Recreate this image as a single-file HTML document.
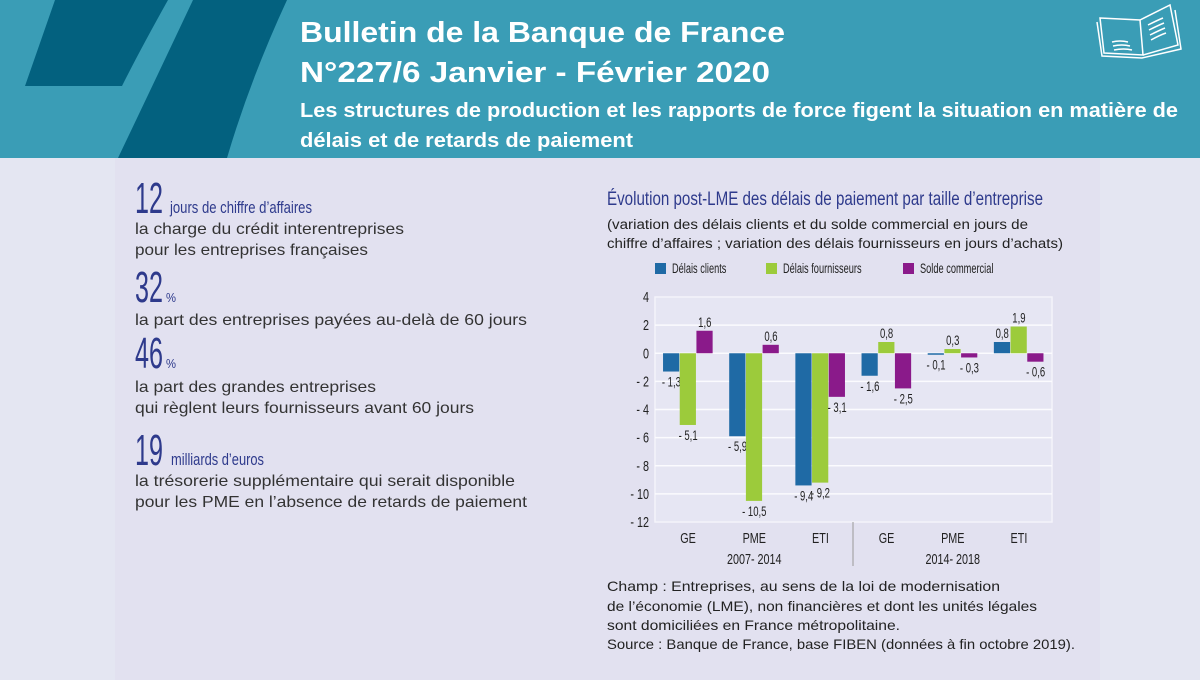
<!DOCTYPE html>
<html><head><meta charset="utf-8"><style>
body{margin:0;width:1200px;height:680px;overflow:hidden;background:#e4e6f2}
svg{display:block}
.n{font-family:"Liberation Sans Narrow","Liberation Sans",sans-serif}
.s{font-family:"Liberation Sans",sans-serif}
</style></head><body>
<svg id="page" width="1200" height="680" viewBox="0 0 1200 680">
<rect x="0" y="0" width="1200" height="680" fill="#e4e6f2"/>
<rect x="115" y="158" width="985" height="522" fill="#e2e1f0"/>
<g>
<rect x="0" y="0" width="1200" height="158" fill="#3a9db6"/>
<path d="M55 0 L168 0 Q140 50 122 86 L25 86 Z" fill="#03617f"/>
<path d="M193 0 L287 0 Q250 80 227 158 L118 158 Q160 70 193 0 Z" fill="#03617f"/>
<text x="300" y="42" fill="#fff" font-size="29" font-weight="bold" class="s" textLength="485" lengthAdjust="spacingAndGlyphs">Bulletin de la Banque de France</text>
<text x="300" y="82" fill="#fff" font-size="29" font-weight="bold" class="s" textLength="470" lengthAdjust="spacingAndGlyphs">N°227/6  Janvier - Février 2020</text>
<text x="300" y="117" fill="#fff" font-size="20" font-weight="bold" class="s" textLength="878" lengthAdjust="spacingAndGlyphs">Les structures de production et les rapports de force figent la situation en matière de</text>
<text x="300" y="147" fill="#fff" font-size="20" font-weight="bold" class="s" textLength="333" lengthAdjust="spacingAndGlyphs">délais et de retards de paiement</text>
<g fill="none" stroke="#fff" stroke-width="1.5">
<path d="M1100 18 L1140 20 L1143 55 L1104 53 Z"/>
<path d="M1140 20 L1170 5 L1178 45 L1143 55"/>
<path d="M1097 22 L1102 56 L1142 58 L1181 49 L1175 10"/>
<path d="M1148 25 Q1158 20 1163 18 M1149 30 Q1159 25 1164 23 M1150 35 Q1160 30 1165 28 M1151 40 Q1160 35 1166 33 M1112 42 Q1120 40 1128 42 M1113 46 Q1122 44 1130 46 M1114 50 Q1124 48 1132 50"/>
</g>
</g>
<g fill="#333">
<text x="135" y="213" class="n" font-size="44" fill="#2e3a8c" textLength="28" lengthAdjust="spacingAndGlyphs">12</text>
<text x="170" y="213" class="n" font-size="17" fill="#2e3a8c" textLength="142" lengthAdjust="spacingAndGlyphs">jours de chiffre d’affaires</text>
<text x="135" y="234" class="s" font-size="16" textLength="269" lengthAdjust="spacingAndGlyphs">la charge du crédit interentreprises</text>
<text x="135" y="255" class="s" font-size="16" textLength="233" lengthAdjust="spacingAndGlyphs">pour les entreprises françaises</text>
<text x="135" y="302" class="n" font-size="44" fill="#2e3a8c" textLength="28" lengthAdjust="spacingAndGlyphs">32</text>
<text x="166" y="302" class="n" font-size="13" fill="#2e3a8c" textLength="10" lengthAdjust="spacingAndGlyphs">%</text>
<text x="135" y="325" class="s" font-size="16" textLength="392" lengthAdjust="spacingAndGlyphs">la part des entreprises payées au-delà de 60 jours</text>
<text x="135" y="368" class="n" font-size="44" fill="#2e3a8c" textLength="28" lengthAdjust="spacingAndGlyphs">46</text>
<text x="166" y="368" class="n" font-size="13" fill="#2e3a8c" textLength="10" lengthAdjust="spacingAndGlyphs">%</text>
<text x="135" y="392" class="s" font-size="16" textLength="241" lengthAdjust="spacingAndGlyphs">la part des grandes entreprises</text>
<text x="135" y="413" class="s" font-size="16" textLength="339" lengthAdjust="spacingAndGlyphs">qui règlent leurs fournisseurs avant 60 jours</text>
<text x="135" y="465" class="n" font-size="44" fill="#2e3a8c" textLength="28" lengthAdjust="spacingAndGlyphs">19</text>
<text x="171" y="465" class="n" font-size="17" fill="#2e3a8c" textLength="93" lengthAdjust="spacingAndGlyphs">milliards d’euros</text>
<text x="135" y="486" class="s" font-size="16" textLength="380" lengthAdjust="spacingAndGlyphs">la trésorerie supplémentaire qui serait disponible</text>
<text x="135" y="507" class="s" font-size="16" textLength="392" lengthAdjust="spacingAndGlyphs">pour les PME en l’absence de retards de paiement</text>
</g>
<g>
<text x="607" y="205" class="n" font-size="19" fill="#2e3a8c" textLength="436" lengthAdjust="spacingAndGlyphs">Évolution post-LME des délais de paiement par taille d’entreprise</text>
<text x="607" y="229" class="s" font-size="13.5" fill="#222" textLength="421" lengthAdjust="spacingAndGlyphs">(variation des délais clients et du solde commercial en jours de</text>
<text x="607" y="248" class="s" font-size="13.5" fill="#222" textLength="456" lengthAdjust="spacingAndGlyphs">chiffre d’affaires ; variation des délais fournisseurs en jours d’achats)</text>
<g id="legend"></g>
<rect x="655" y="297" width="397" height="225" fill="#e6e6f3" stroke="#f4f4fa" stroke-width="1.5"/>
<g id="grid"></g>
<g id="yaxis"></g>
<g id="bars"></g>
<g id="xaxis"></g>
<line x1="853" y1="522" x2="853" y2="566" stroke="#999" stroke-width="1"/>
</g>
<g fill="#222" font-size="14" class="n">
<text x="607" y="591" textLength="393" lengthAdjust="spacingAndGlyphs" class="n">Champ : Entreprises, au sens de la loi de modernisation</text>
<text x="607" y="611" textLength="430" lengthAdjust="spacingAndGlyphs" class="n">de l’économie (LME), non financières et dont les unités légales</text>
<text x="607" y="630" textLength="293" lengthAdjust="spacingAndGlyphs" class="n">sont domiciliées en France métropolitaine.</text>
<text x="607" y="649" textLength="468" lengthAdjust="spacingAndGlyphs" class="n">Source : Banque de France, base FIBEN (données à fin octobre 2019).</text>
</g>
</svg>
<script>
const categories = ["GE","PME","ETI","GE","PME","ETI"];
const periods = ["2007- 2014","2014- 2018"];
const seriesNames = ["Délais clients","Délais fournisseurs","Solde commercial"];
const delaisClients = [-1.3,-5.9,-9.4,-1.6,-0.1,0.8];
const delaisFournisseurs = [-5.1,-10.5,-9.2,0.8,0.3,1.9];
const soldeCommercial = [1.6,0.6,-3.1,-2.5,-0.3,-0.6];
const yTicks = [4,2,0,-2,-4,-6,-8,-10,-12];

const NS="http://www.w3.org/2000/svg";
const colors=["#1f6aa5","#9ccb3b","#8a1a8a"];
const plot={x:655,y:297,w:397,h:225,min:-12,max:4};
function yS(v){return plot.y+(plot.max-v)/(plot.max-plot.min)*plot.h;}
function xC(i){return plot.x+(i+0.5)*plot.w/categories.length;}
function mk(tag,attrs,parent){const e=document.createElementNS(NS,tag);for(const k in attrs)e.setAttribute(k,attrs[k]);parent.appendChild(e);return e;}
// condensed text via horizontal scale
function ntext(parent,x,y,str,size,anchor,sx){
  const t=mk('text',{x:0,y:0,'text-anchor':anchor,'font-size':size,fill:'#222',class:'n',transform:'translate('+x+','+y+') scale('+sx+',1)'},parent);
  t.textContent=str;return t;
}
const grid=document.getElementById('grid'),yax=document.getElementById('yaxis'),bars=document.getElementById('bars'),xax=document.getElementById('xaxis'),leg=document.getElementById('legend');
yTicks.forEach(t=>{
  if(t!==plot.min&&t!==plot.max){const l=mk('line',{x1:plot.x,x2:plot.x+plot.w,y1:yS(t),y2:yS(t),stroke:'#fbfbfe','stroke-width':1.5},grid);
  
  }
  const tx=ntext(yax,plot.x-6,yS(t)+5,(t<0?'- '+(-t):String(t)),15,'end',0.72);
  
  
});
const series=[delaisClients,delaisFournisseurs,soldeCommercial];
const bw=16.7;
series.forEach((arr,s)=>{
  arr.forEach((v,i)=>{
    const x=xC(i)-bw*1.5+s*bw;
    const y0=yS(0),y1=yS(v);
    const r=mk('rect',{x:x,y:Math.min(y0,y1),width:bw-0.5,height:Math.max(1.5,Math.abs(y1-y0)),fill:colors[s]},bars);
    
    
    const lbl=ntext(bars,x+bw/2,v>=0?y1-4:y1+15,(v<0?'- ':'')+Math.abs(v).toFixed(1).replace('.',','),14,'middle',0.68);
    
    
  });
});
categories.forEach((c,i)=>{
  const t=ntext(xax,xC(i),543,c,15,'middle',0.72);
  
  
});
periods.forEach((p,j)=>{
  const t=ntext(xax,(xC(j*3)+xC(j*3+2))/2,564,p,15,'middle',0.72);
  
  
});
const legX=[655,766,903];
seriesNames.forEach((n,s)=>{
  const r=mk('rect',{x:legX[s],y:263,width:11,height:11,fill:colors[s]},leg);
  
  
  const t=ntext(leg,legX[s]+17,273,n,14,'start',0.66);
  
  
});
</script>
</body></html>
